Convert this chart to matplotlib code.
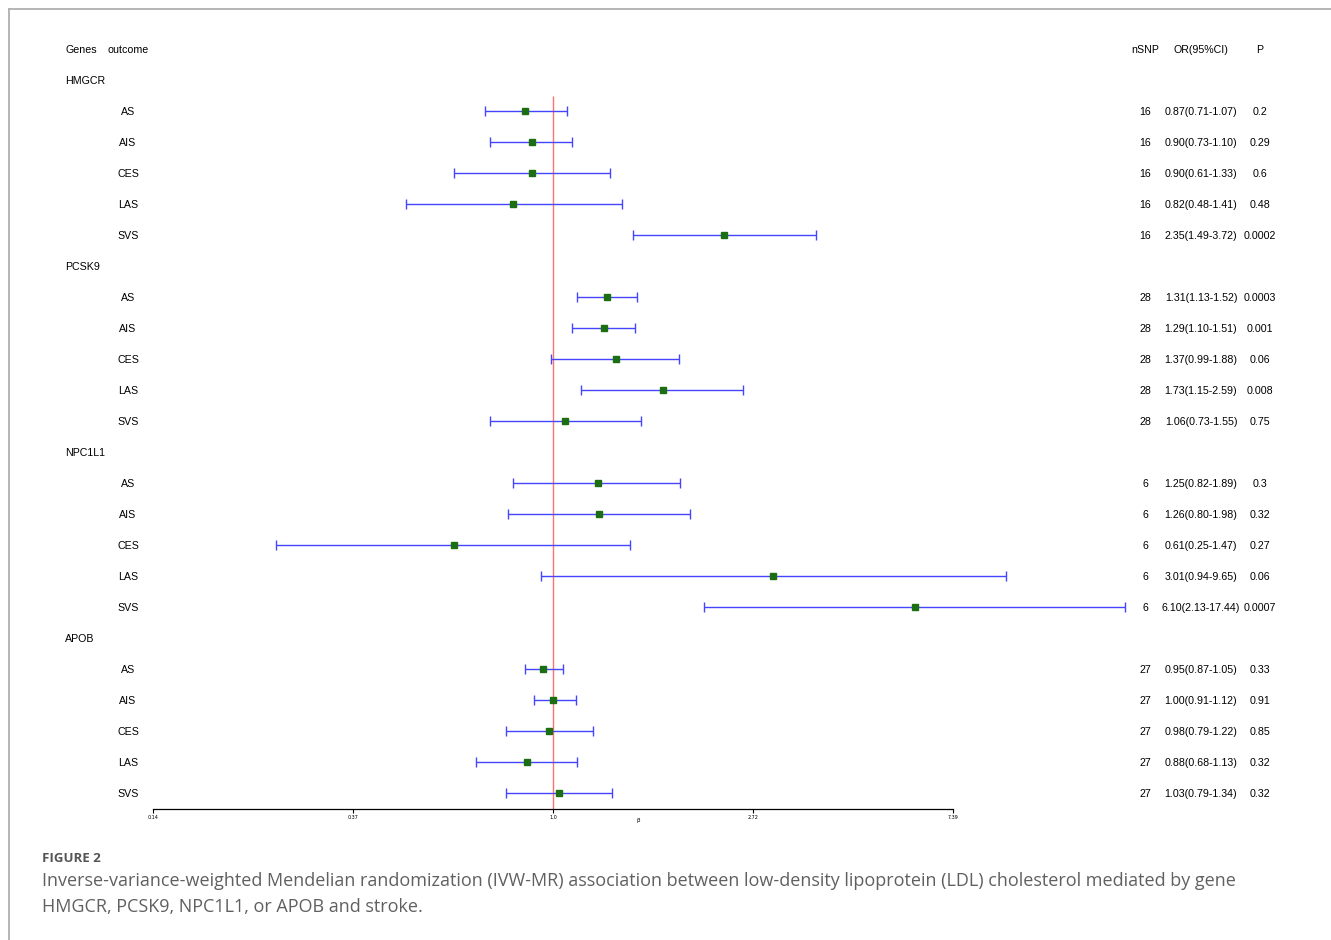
import matplotlib

matplotlib.use("Agg")
import matplotlib.pyplot as plt
import matplotlib.transforms as mtransforms
from matplotlib.lines import Line2D
import numpy as np

W, H = 1331, 940

genes = ["HMGCR", "PCSK9", "NPC1L1", "APOB"]
outcomes = ["AS", "AIS", "CES", "LAS", "SVS"]
nsnp = [16, 28, 6, 27]
or_vals = [
    [0.87, 0.90, 0.90, 0.82, 2.35],
    [1.31, 1.29, 1.37, 1.73, 1.06],
    [1.25, 1.26, 0.61, 3.01, 6.10],
    [0.95, 1.00, 0.98, 0.88, 1.03],
]
ci_low = [
    [0.71, 0.73, 0.61, 0.48, 1.49],
    [1.13, 1.10, 0.99, 1.15, 0.73],
    [0.82, 0.80, 0.25, 0.94, 2.13],
    [0.87, 0.91, 0.79, 0.68, 0.79],
]
ci_high = [
    [1.07, 1.10, 1.33, 1.41, 3.72],
    [1.52, 1.51, 1.88, 2.59, 1.55],
    [1.89, 1.98, 1.47, 9.65, 17.44],
    [1.05, 1.12, 1.22, 1.13, 1.34],
]
p_vals = [
    ["0.2", "0.29", "0.6", "0.48", "0.0002"],
    ["0.0003", "0.001", "0.06", "0.008", "0.75"],
    ["0.3", "0.32", "0.27", "0.06", "0.0007"],
    ["0.33", "0.91", "0.85", "0.32", "0.32"],
]
tick_vals = np.exp([-2, -1, 0, 1, 2])
tick_labels = ["0.14", "0.37", "1.0", "2.72", "7.39"]

TXT = dict(fontsize=7.7, family="Liberation Sans", va="center")
BLUE = "#4545ff"
GREEN = "#1c6e12"


def fx(px):
    return px / W


fig = plt.figure(figsize=(W / 100, H / 100), dpi=100)
row_top, row_h = 49, 31
n_rows = 1 + 6 * len(genes)
y_top_px = row_top - 0.5 * row_h
y_bot_px = row_top + (n_rows - 0.5) * row_h
ax = fig.add_axes([fx(153), 1 - y_bot_px / H, fx(800), (y_bot_px - y_top_px) / H])
ax.set_xscale("log")
ax.set_xlim(tick_vals[0], tick_vals[-1])
ax.set_ylim(n_rows - 0.5, -0.5)
for s in ("top", "left", "right"):
    ax.spines[s].set_visible(False)
ax.spines["bottom"].set_linewidth(0.9)
ax.set_yticks([])
ax.set_xticks(tick_vals)
ax.set_xticklabels(tick_labels)
ax.xaxis.set_minor_locator(matplotlib.ticker.NullLocator())
ax.tick_params(axis="x", length=3, width=0.8, labelsize=3.5, pad=2)
ax.set_xlabel("β", fontsize=4, labelpad=1)
ax.xaxis.set_label_coords((638 - 153) / 800, -0.012)

ax.vlines(1.0, 1.5, n_rows - 0.5, color="#ff7070", lw=1, zorder=1)

trans = mtransforms.blended_transform_factory(fig.transFigure, ax.transData)
ax.text(fx(65), 0.03, "Genes", transform=trans, ha="left", **TXT)
ax.text(fx(108), 0.03, "outcome", transform=trans, ha="left", **TXT)
ax.text(fx(1145), 0.03, "nSNP", transform=trans, ha="center", **TXT)
ax.text(fx(1201), 0.03, "OR(95%CI)", transform=trans, ha="center", **TXT)
ax.text(fx(1260), 0.03, "P", transform=trans, ha="center", **TXT)

for k, gene in enumerate(genes):
    g_row = 1 + 6 * k
    ax.text(fx(65), g_row + 0.03, gene, transform=trans, ha="left", **TXT)
    for j, oc in enumerate(outcomes):
        r = g_row + 1 + j
        o, lo, hi = or_vals[k][j], ci_low[k][j], ci_high[k][j]
        ax.hlines(r, lo, hi, color=BLUE, lw=1, clip_on=False, zorder=2)
        ax.plot([lo, hi], [r, r], ls="none", marker="|", ms=7, mew=1,
                color=BLUE, clip_on=False, zorder=2)
        ax.plot(o, r, ls="none", marker="s", ms=4.2, color=GREEN,
                clip_on=False, zorder=3)
        rt = r + 0.03
        ax.text(fx(128), rt, oc, transform=trans, ha="center", **TXT)
        ax.text(fx(1145), rt, str(nsnp[k]), transform=trans, ha="center", **TXT)
        ax.text(fx(1201), rt, f"{o:.2f}({lo:.2f}-{hi:.2f})", transform=trans,
                ha="center", **TXT)
        ax.text(fx(1260), rt, p_vals[k][j], transform=trans, ha="center", **TXT)

# page border (top and left)
fig.add_artist(Line2D([fx(9), fx(9)], [0, 1 - 9 / H], color="#b0b0b0", lw=1.3))
fig.add_artist(Line2D([fx(9), 1], [1 - 9 / H, 1 - 9 / H], color="#b0b0b0", lw=1.3))

fig.text(fx(42), 1 - 858 / H, "FIGURE 2", fontsize=9.5, family="Open Sans",
         weight="bold", color="#555555", va="center")
fig.text(fx(42), 1 - 894 / H,
         "Inverse-variance-weighted Mendelian randomization (IVW-MR) association between "
         "low-density lipoprotein (LDL) cholesterol mediated by gene\n"
         "HMGCR, PCSK9, NPC1L1, or APOB and stroke.",
         fontsize=13, family="Open Sans", color="#606060", va="center",
         linespacing=1.52)

fig.savefig("out.png", dpi=100)
